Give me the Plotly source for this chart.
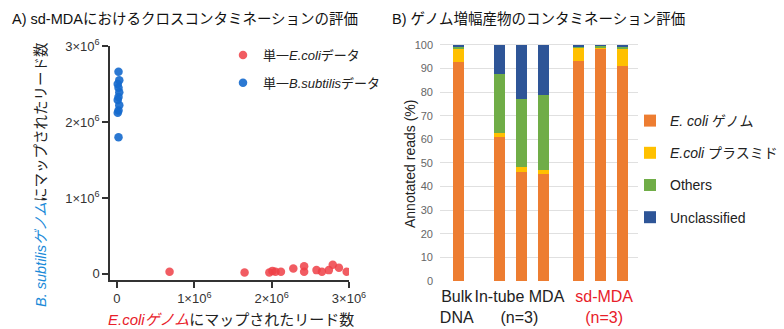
import plotly.graph_objects as go

# ---------- Panel A data (reads, units of 1e6) ----------
ecoli_x = [0.68, 1.65, 1.97, 2.01, 2.05, 2.12, 2.28, 2.42, 2.42, 2.58, 2.65, 2.74, 2.79, 2.87, 2.97]
ecoli_y = [0.03, 0.02, 0.02, 0.04, 0.03, 0.03, 0.07, 0.10, 0.03, 0.05, 0.03, 0.05, 0.12, 0.08, 0.03]
bsub_x = [0.02, 0.03, 0.01, 0.02, 0.03, 0.02, 0.01, 0.03, 0.02, 0.01, 0.02]
bsub_y = [2.66, 2.55, 2.50, 2.45, 2.39, 2.33, 2.29, 2.22, 2.15, 2.12, 1.80]
a_tickvals = [0, 1, 2, 3]
a_ticktext = ["0", "1×10<sup>6</sup>", "2×10<sup>6</sup>", "3×10<sup>6</sup>"]

# ---------- Panel B data (% of annotated reads) ----------
bar_pos = [0, 1.85, 2.85, 3.85, 5.45, 6.45, 7.45]
genome = [93.0, 61.0, 46.3, 45.6, 93.3, 98.2, 91.2]
plasmid = [5.8, 1.8, 2.1, 1.4, 5.7, 1.0, 7.4]
others = [0.7, 24.8, 28.7, 31.8, 0.5, 0.5, 0.8]
unclassified = [0.5, 12.4, 22.9, 21.2, 0.5, 0.3, 0.6]
group_pos = [-0.1, 2.75, 6.6]
group_labels = ["Bulk<br>DNA", "In-tube MDA<br>(n=3)",
                "<span style='color:#e8202a'>sd-MDA<br>(n=3)</span>"]
b_tickvals = [0, 10, 20, 30, 40, 50, 60, 70, 80, 90, 100]

FONT = "Liberation Sans, Arial, Noto Sans CJK JP, sans-serif"
W, H = 784, 329

fig = go.Figure()

fig.add_trace(go.Scatter(
    x=[v * 1e6 for v in ecoli_x], y=[v * 1e6 for v in ecoli_y], mode="markers",
    name="単一<i>E.coli</i>データ", legend="legend", legendgroup="a",
    marker=dict(size=8.5, color="rgba(238,64,70,0.85)", line=dict(width=0)),
    xaxis="x", yaxis="y"))
fig.add_trace(go.Scatter(
    x=[v * 1e6 for v in bsub_x], y=[v * 1e6 for v in bsub_y], mode="markers",
    name="単一<i>B.subtilis</i>データ", legend="legend", legendgroup="b",
    marker=dict(size=8.5, color="rgba(20,105,205,0.9)", line=dict(width=0)),
    xaxis="x", yaxis="y"))

series = [
    ("<i>E. coli</i> ゲノム", genome, "#ED7D31"),
    ("<i>E.coli</i> プラスミド", plasmid, "#FFC000"),
    ("Others", others, "#70AD47"),
    ("Unclassified", unclassified, "#2E5597"),
]
for i, (name, vals, col) in enumerate(series):
    fig.add_trace(go.Bar(
        x=bar_pos, y=vals, name=name, width=0.5, marker=dict(color=col, line=dict(width=0)),
        legend="legend2", legendgroup=f"g{i}", xaxis="x2", yaxis="y2"))

fig.update_layout(
    width=W, height=H, margin=dict(l=0, r=0, t=0, b=0),
    paper_bgcolor="white", plot_bgcolor="white",
    font=dict(family=FONT, color="#222"),
    barmode="stack", bargap=0,
    xaxis=dict(domain=[110 / W, 349 / W], range=[-0.09e6, 3.0e6], automargin=False,
               tickvals=[v * 1e6 for v in a_tickvals], ticktext=a_ticktext,
               showline=True, linecolor="#333", linewidth=1.5, ticks="outside",
               ticklen=6, tickwidth=1.5, tickcolor="#333", showgrid=False, zeroline=False,
               tickfont=dict(size=13, color="#333")),
    yaxis=dict(domain=[(H - 280) / H, (H - 46) / H], range=[-0.08e6, 3.0e6], automargin=False,
               tickvals=[v * 1e6 for v in a_tickvals], ticktext=a_ticktext,
               showline=True, linecolor="#333", linewidth=1.5, ticks="outside",
               ticklen=6, tickwidth=1.5, tickcolor="#333", showgrid=False, zeroline=False,
               tickfont=dict(size=13, color="#333")),
    xaxis2=dict(domain=[440 / W, 638 / W], range=[-0.86, 8.14], anchor="y2", automargin=False,
                tickvals=group_pos, ticktext=group_labels, ticks="", showline=False,
                tickangle=0, ticklabelstandoff=4, showgrid=False, zeroline=False,
                tickfont=dict(size=16, color="#222")),
    yaxis2=dict(domain=[(H - 281) / H, (H - 43.8) / H], range=[0, 100.5], anchor="x2",
                automargin=False, tickvals=b_tickvals, showgrid=True, gridcolor="#e0e0e0",
                gridwidth=1, zeroline=False, showline=False, ticks="", ticklabelstandoff=6,
                tickfont=dict(size=11, color="#666")),
    legend=dict(x=223 / W, y=1 - 40 / H, xanchor="left", yanchor="top",
                bgcolor="rgba(0,0,0,0)", font=dict(size=13, color="#222"),
                traceorder="grouped", tracegroupgap=8),
    legend2=dict(x=630 / W, y=1 - 105 / H, xanchor="left", yanchor="top",
                 bgcolor="rgba(0,0,0,0)", font=dict(size=14, color="#222"),
                 traceorder="grouped", tracegroupgap=11),
)

annotations = [
    dict(text="A) sd-MDAにおけるクロスコンタミネーションの評価", x=10 / W, y=1 - 19 / H,
         xref="paper", yref="paper", xanchor="left", yanchor="middle", showarrow=False,
         font=dict(size=14.5, color="#111")),
    dict(text="B) ゲノム増幅産物のコンタミネーション評価", x=390 / W, y=1 - 19 / H,
         xref="paper", yref="paper", xanchor="left", yanchor="middle", showarrow=False,
         font=dict(size=14.5, color="#111")),
    dict(text="<span style='color:#1a8ad8'><i>B. subtilisゲノム</i></span>にマップされたリード数",
         x=41 / W, y=1 - 175 / H, xref="paper", yref="paper", xanchor="center",
         yanchor="middle", textangle=-90, showarrow=False, font=dict(size=14.5, color="#222")),
    dict(text="<span style='color:#e8202a'><i>E.coliゲノム</i></span>にマップされたリード数",
         x=231 / W, y=1 - 319 / H, xref="paper", yref="paper", xanchor="center",
         yanchor="middle", showarrow=False, font=dict(size=15, color="#222")),
    dict(text="Annotated reads (%)", x=410 / W, y=1 - 164 / H, xref="paper", yref="paper",
         xanchor="center", yanchor="middle", textangle=-90, showarrow=False,
         font=dict(size=14, color="#222")),
]
fig.update_layout(annotations=annotations)

fig.write_html("out.html", config={"displayModeBar": False},
               post_script="document.body.style.margin='0px';")
